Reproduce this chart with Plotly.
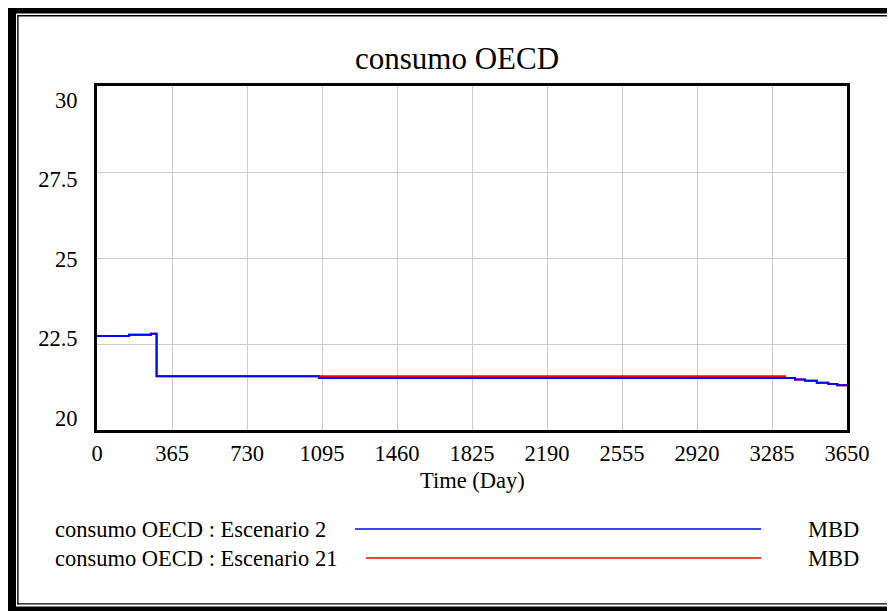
import plotly.graph_objects as go

# ---- data ----
t_esc2 = [0, 156, 263, 290, 1080, 3397, 3446, 3503, 3559, 3603, 3650]
v_esc2 = [22.73, 22.77, 22.80, 21.56, 21.51, 21.47, 21.43, 21.37, 21.34, 21.30, 21.30]
t_esc21 = [0, 156, 263, 290, 3348, 3397, 3446, 3503, 3559, 3603, 3650]
v_esc21 = [22.73, 22.77, 22.80, 21.56, 21.51, 21.47, 21.43, 21.37, 21.34, 21.30, 21.30]
x_ticks = [0, 365, 730, 1095, 1460, 1825, 2190, 2555, 2920, 3285, 3650]
y_ticks = [20, 22.5, 25, 27.5, 30]
y_ticktext = ["20", "22.5", "25", "27.5", "30"]
series_names = ["consumo OECD : Escenario 2", "consumo OECD : Escenario 21"]
units = ["MBD", "MBD"]
colors = ["#0000ff", "#ff0000"]

OFF = 8  # page body margin
W, H = 895 - OFF, 611 - OFF
L, R, T, B = 97 - OFF, 847 - OFF, 86 - OFF, 430 - OFF

def px(x):
    return (x - OFF - L) / (R - L)

def py(y):
    return (B - (y - OFF)) / (B - T)

FONT = "Liberation Serif, Times New Roman, serif"
FS = 22.5

fig = go.Figure()
# invisible trace so the label axis (y2) gets drawn
fig.add_trace(go.Scatter(x=t_esc2, y=v_esc2, yaxis="y2", mode="lines", line=dict(width=0, color="rgba(0,0,0,0)"),
                         hoverinfo="skip", showlegend=False, opacity=0))
fig.add_trace(go.Scatter(x=t_esc21, y=v_esc21, mode="lines", line=dict(color=colors[1], width=2, shape="hv"),
                         name=series_names[1], showlegend=False))
fig.add_trace(go.Scatter(x=t_esc2, y=v_esc2, mode="lines", line=dict(color=colors[0], width=2, shape="hv"),
                         name=series_names[0], showlegend=False))

shapes = []
def rect(x0, y0, x1, y1):
    shapes.append(dict(type="rect", xref="paper", yref="paper", x0=px(x0), x1=px(x1), y0=py(y1), y1=py(y0),
                       fillcolor="black", line=dict(width=0), layer="above"))

rect(7, 5, 16, 611)            # left thick
rect(17.2, 15, 18.6, 604.5)    # left thin
rect(7, 5, 895, 13.5)          # top thick
rect(17.2, 15, 895, 16.6)      # top thin
rect(7, 606.5, 895, 611)       # bottom thick
rect(17.2, 603.2, 895, 604.6)  # bottom thin

annotations = [
    dict(text="consumo OECD", xref="paper", yref="paper", x=px(457), y=py(58), showarrow=False,
         font=dict(family=FONT, size=31, color="black"), xanchor="center", yanchor="middle"),
    dict(text="Time (Day)", xref="paper", yref="paper", x=px(472), y=py(480), showarrow=False,
         font=dict(family=FONT, size=FS, color="black"), xanchor="center", yanchor="middle"),
]

leg_y = [529, 558]
leg_x0 = [355, 366]
for i in range(2):
    annotations.append(dict(text=series_names[i], xref="paper", yref="paper", x=px(53), y=py(leg_y[i]),
                            showarrow=False, xanchor="left", yanchor="middle",
                            font=dict(family=FONT, size=FS, color="black")))
    annotations.append(dict(text=units[i], xref="paper", yref="paper", x=px(806), y=py(leg_y[i]),
                            showarrow=False, xanchor="left", yanchor="middle",
                            font=dict(family=FONT, size=FS, color="black")))
    shapes.append(dict(type="line", xref="paper", yref="paper", x0=px(leg_x0[i]), x1=px(761),
                       y0=py(leg_y[i]), y1=py(leg_y[i]), line=dict(color=colors[i], width=1.5)))

# label axis: Vensim-style labels pulled inward (top label below the top, bottom label above the bottom)
lab_top_px, lab_bot_px = 100, 418
unit_px = (lab_bot_px - lab_top_px) / (y_ticks[-1] - y_ticks[0])
y2_range = [y_ticks[0] - (430 - lab_bot_px) / unit_px, y_ticks[-1] + (lab_top_px - 86) / unit_px]

fig.update_layout(
    width=W, height=H,
    margin=dict(l=L, r=W - R, t=T, b=H - B),
    paper_bgcolor="white", plot_bgcolor="white",
    shapes=shapes, annotations=annotations,
    showlegend=False,
    font=dict(family=FONT, color="black"),
    yaxis2=dict(overlaying="y", anchor="x", side="left", range=y2_range,
                tickvals=y_ticks, ticktext=y_ticktext, showgrid=False, zeroline=False,
                showline=False, ticks="outside", ticklen=14, tickcolor="rgba(0,0,0,0)",
                tickfont=dict(family=FONT, size=FS, color="black")),
)
fig.update_xaxes(range=[0, 3650], tickvals=x_ticks, ticktext=[str(v) for v in x_ticks],
                 showgrid=True, gridcolor="#cccccc", gridwidth=1,
                 showline=True, linecolor="black", linewidth=3, mirror=True,
                 ticks="outside", ticklen=1, tickcolor="rgba(0,0,0,0)",
                 tickfont=dict(family=FONT, size=FS, color="black"), zeroline=False)
fig.layout.yaxis.update(range=[20, 30], tickvals=y_ticks, showticklabels=False,
                        showgrid=True, gridcolor="#cccccc", gridwidth=1,
                        showline=True, linecolor="black", linewidth=3, mirror=True,
                        ticks="", zeroline=False)

fig.write_html("out.html")
